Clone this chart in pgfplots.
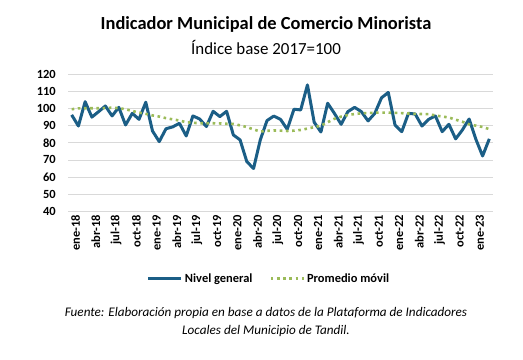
\documentclass[border=0pt]{standalone}
\usepackage{pgfplots}
\pgfplotsset{compat=1.18}
\usepackage{pgfplotstable}
\usepackage{fontspec}
\setmainfont{Carlito}
\definecolor{blueline}{HTML}{1B5E86}
\definecolor{greendot}{HTML}{9BBB59}
\definecolor{gridgray}{HTML}{D9D9D9}
\pgfplotstableread{
i nivel prom
0 96.3 99.6
1 89.8 100.1
2 104.0 100.2
3 95.0 100.2
4 98.2 100.2
5 101.5 100.3
6 95.7 100.5
7 100.7 100.2
8 90.4 99.6
9 97.2 98.6
10 93.7 97.6
11 103.7 96.9
12 86.9 96.0
13 80.7 95.3
14 88.2 94.4
15 89.3 93.7
16 91.4 93.0
17 84.0 92.0
18 95.7 91.7
19 93.9 91.4
20 89.5 91.4
21 98.4 91.4
22 95.3 91.3
23 98.4 91.1
24 84.6 91.0
25 81.7 90.2
26 69.0 89.2
27 65.0 87.8
28 81.7 86.6
29 93.0 87.0
30 95.6 87.2
31 93.7 87.1
32 87.9 86.9
33 99.6 87.1
34 99.2 87.5
35 113.8 88.3
36 92.0 89.1
37 86.3 90.0
38 103.1 92.0
39 97.2 94.0
40 90.8 95.3
41 98.2 96.2
42 100.7 96.8
43 98.2 97.2
44 92.8 97.4
45 97.2 97.6
46 106.3 97.6
47 109.4 97.6
48 90.4 97.5
49 86.5 97.3
50 97.2 97.1
51 96.8 96.9
52 89.8 96.8
53 93.7 96.7
54 95.7 96.0
55 86.5 95.3
56 90.8 94.8
57 82.3 93.5
58 87.5 92.3
59 93.9 90.8
60 82.1 90.0
61 72.3 89.2
62 82.3 88.0
}\datatable
\begin{document}
\begin{tikzpicture}
\useasboundingbox (0bp,0bp) rectangle (523bp,360bp);
\node[font=\fontsize{18.5}{22}\selectfont\bfseries] at (266bp,336bp) {Indicador Municipal de Comercio Minorista};
\node[font=\fontsize{17}{20}\selectfont] at (266bp,313bp) {Índice base 2017=100};
\begin{axis}[
  at={(68.3bp,148.7bp)}, anchor=south west,
  scale only axis, width=424.4bp, height=137bp,
  xmin=-0.5, xmax=62.5, ymin=40, ymax=120,
  ytick={40,50,...,120},
  xtick={0,3,...,60},
  xticklabels={ene-18,abr-18,jul-18,oct-18,ene-19,abr-19,jul-19,oct-19,ene-20,abr-20,jul-20,oct-20,ene-21,abr-21,jul-21,oct-21,ene-22,abr-22,jul-22,oct-22,ene-23},
  axis line style={draw=none},
  major tick length=0pt,
  ymajorgrids, grid style={gridgray, line width=0.75bp},
  /pgf/number format/assume math mode=true,
  yticklabel style={font=\fontsize{12.5}{14}\selectfont\bfseries, xshift=-9bp},
  xticklabel style={font=\fontsize{12.5}{14}\selectfont\bfseries, rotate=90, anchor=east, yshift=-4bp},
  legend style={at={(0.473,-0.49)}, anchor=center, draw=none, fill=none,
    legend columns=2, font=\fontsize{12.5}{14}\selectfont\bfseries,
    /tikz/every even column/.append style={column sep=15bp}},
  legend image code/.code={\draw[#1] (0bp,0bp) -- (33bp,0bp);},
]
\addplot[blueline, line width=3bp, line join=round] table[x=i, y=nivel] {\datatable};
\addlegendentry{Nivel general}
\addplot[greendot, line width=2.6bp, dash pattern=on 2.6bp off 3.6bp] table[x=i, y=prom] {\datatable};
\addlegendentry{Promedio móvil}
\end{axis}
\node[font=\fontsize{13.2}{15}\selectfont\itshape] at (266bp,47bp) {Fuente: Elaboración propia en base a datos de la Plataforma de Indicadores};
\node[font=\fontsize{13.2}{15}\selectfont\itshape] at (266bp,29bp) {Locales del Municipio de Tandil.};
\end{tikzpicture}
\end{document}
